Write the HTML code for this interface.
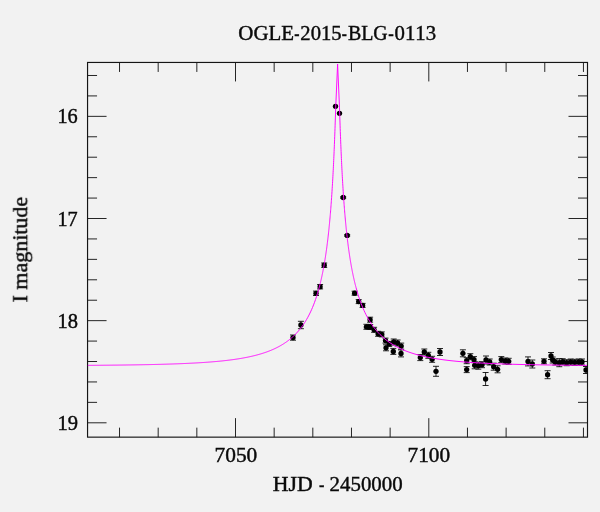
<!DOCTYPE html>
<html><head><meta charset="utf-8"><title>OGLE-2015-BLG-0113</title>
<style>html,body{margin:0;padding:0;background:#f2f2f2;width:600px;height:512px;overflow:hidden;font-family:"Liberation Serif",serif}</style>
</head><body>
<svg width="600" height="512" viewBox="0 0 600 512" style="display:block">
<rect width="600" height="512" fill="#f2f2f2"/>
<defs><clipPath id="c"><rect x="87.55" y="62.45" width="499.95" height="374.7"/></clipPath></defs>
<path d="M119.52,437.15v-9.5M119.52,62.45v9.5M158.18,437.15v-9.5M158.18,62.45v9.5M196.84,437.15v-9.5M196.84,62.45v9.5M235.50,437.15v-19M235.50,62.45v19M274.16,437.15v-9.5M274.16,62.45v9.5M312.82,437.15v-9.5M312.82,62.45v9.5M351.48,437.15v-9.5M351.48,62.45v9.5M390.14,437.15v-9.5M390.14,62.45v9.5M428.80,437.15v-19M428.80,62.45v19M467.46,437.15v-9.5M467.46,62.45v9.5M506.12,437.15v-9.5M506.12,62.45v9.5M544.78,437.15v-9.5M544.78,62.45v9.5M583.44,437.15v-9.5M583.44,62.45v9.5M87.55,75.49h9.5M587.5,75.49h-9.5M87.55,95.92h9.5M587.5,95.92h-9.5M87.55,116.35h19M587.5,116.35h-19M87.55,136.78h9.5M587.5,136.78h-9.5M87.55,157.21h9.5M587.5,157.21h-9.5M87.55,177.64h9.5M587.5,177.64h-9.5M87.55,198.07h9.5M587.5,198.07h-9.5M87.55,218.50h19M587.5,218.50h-19M87.55,238.93h9.5M587.5,238.93h-9.5M87.55,259.36h9.5M587.5,259.36h-9.5M87.55,279.79h9.5M587.5,279.79h-9.5M87.55,300.22h9.5M587.5,300.22h-9.5M87.55,320.65h19M587.5,320.65h-19M87.55,341.08h9.5M587.5,341.08h-9.5M87.55,361.51h9.5M587.5,361.51h-9.5M87.55,381.94h9.5M587.5,381.94h-9.5M87.55,402.37h9.5M587.5,402.37h-9.5M87.55,422.80h19M587.5,422.80h-19" stroke="#262626" stroke-width="1.0" fill="none"/>
<rect x="87.55" y="62.45" width="499.95" height="374.7" fill="none" stroke="#151515" stroke-width="1.15"/>
<g clip-path="url(#c)"><path d="M343.2,196.8v1.4M340.2,196.8h6M340.2,198.2h6M347.2,234.7v1.4M344.2,234.7h6M344.2,236.1h6M324.2,263.0v4.4M321.2,263.0h6M321.2,267.4h6M320.1,284.5v4.4M317.1,284.5h6M317.1,288.9h6M316.0,291.1v4.4M313.0,291.1h6M313.0,295.5h6M300.9,321.3v7.4M297.9,321.3h6M297.9,328.7h6M293.0,335.0v5.2M290.0,335.0h6M290.0,340.2h6M354.6,291.2v4.0M351.6,291.2h6M351.6,295.2h6M358.7,299.6v4.0M355.7,299.6h6M355.7,303.6h6M362.6,303.4v4.0M359.6,303.4h6M359.6,307.4h6M370.1,317.2v5.0M367.1,317.2h6M367.1,322.2h6M366.4,324.3v5.0M363.4,324.3h6M363.4,329.3h6M370.2,324.5v5.0M367.2,324.5h6M367.2,329.5h6M374.1,327.3v5.0M371.1,327.3h6M371.1,332.3h6M378.1,331.3v5.0M375.1,331.3h6M375.1,336.3h6M381.8,331.9v5.0M378.8,331.9h6M378.8,336.9h6M385.5,338.1v5.0M382.5,338.1h6M382.5,343.1h6M386.0,344.8v6.0M383.0,344.8h6M383.0,350.8h6M389.2,341.4v5.0M386.2,341.4h6M386.2,346.4h6M393.7,339.0v6.0M390.7,339.0h6M390.7,345.0h6M397.6,340.0v6.0M394.6,340.0h6M394.6,346.0h6M393.3,348.4v6.0M390.3,348.4h6M390.3,354.4h6M401.2,343.1v6.0M398.2,343.1h6M398.2,349.1h6M401.0,349.9v7.0M398.0,349.9h6M398.0,356.9h6M420.3,354.6v6.0M417.3,354.6h6M417.3,360.6h6M424.3,349.0v6.0M421.3,349.0h6M421.3,355.0h6M428.3,352.3v6.0M425.3,352.3h6M425.3,358.3h6M432.1,356.3v6.0M429.1,356.3h6M429.1,362.3h6M440.0,348.5v7.0M437.0,348.5h6M437.0,355.5h6M436.0,366.3v10.0M433.0,366.3h6M433.0,376.3h6M462.9,349.8v7.0M459.9,349.8h6M459.9,356.8h6M466.7,357.7v6.0M463.7,357.7h6M463.7,363.7h6M466.7,366.6v6.0M463.7,366.6h6M463.7,372.6h6M470.3,353.7v6.0M467.3,353.7h6M467.3,359.7h6M474.0,356.6v6.0M471.0,356.6h6M471.0,362.6h6M474.7,361.8v7.0M471.7,361.8h6M471.7,368.8h6M478.3,362.2v7.0M475.3,362.2h6M475.3,369.2h6M482.0,361.7v6.0M479.0,361.7h6M479.0,367.7h6M486.0,356.0v8.0M483.0,356.0h6M483.0,364.0h6M485.6,372.5v13.0M482.6,372.5h6M482.6,385.5h6M489.7,359.0v6.0M486.7,359.0h6M486.7,365.0h6M493.7,363.2v7.0M490.7,363.2h6M490.7,370.2h6M497.6,365.8v7.0M494.6,365.8h6M494.6,372.8h6M501.3,356.6v6.0M498.3,356.6h6M498.3,362.6h6M505.3,358.0v6.0M502.3,358.0h6M502.3,364.0h6M508.7,358.3v6.0M505.7,358.3h6M505.7,364.3h6M528.0,356.9v9.0M525.0,356.9h6M525.0,365.9h6M532.3,360.0v8.0M529.3,360.0h6M529.3,368.0h6M544.0,358.8v5.0M541.0,358.8h6M541.0,363.8h6M547.6,370.7v8.0M544.6,370.7h6M544.6,378.7h6M551.0,352.5v7.0M548.0,352.5h6M548.0,359.5h6M552.7,357.0v6.0M549.7,357.0h6M549.7,363.0h6M555.3,359.0v6.0M552.3,359.0h6M552.3,365.0h6M559.3,358.7v8.0M556.3,358.7h6M556.3,366.7h6M562.7,358.7v6.0M559.7,358.7h6M559.7,364.7h6M566.7,359.7v6.0M563.7,359.7h6M563.7,365.7h6M570.7,359.0v6.0M567.7,359.0h6M567.7,365.0h6M574.7,359.3v6.0M571.7,359.3h6M571.7,365.3h6M578.7,359.0v6.0M575.7,359.0h6M575.7,365.0h6M582.0,359.0v6.0M579.0,359.0h6M579.0,365.0h6M586.0,366.5v7.0M583.0,366.5h6M583.0,373.5h6" stroke="#000" stroke-width="0.85" fill="none"/><circle cx="335.5" cy="106.3" r="2.65" fill="#000"/><circle cx="339.5" cy="113.3" r="2.65" fill="#000"/><circle cx="343.2" cy="197.5" r="2.65" fill="#000"/><circle cx="347.2" cy="235.4" r="2.65" fill="#000"/><circle cx="324.2" cy="265.2" r="2.65" fill="#000"/><circle cx="320.1" cy="286.7" r="2.65" fill="#000"/><circle cx="316.0" cy="293.3" r="2.65" fill="#000"/><circle cx="300.9" cy="325.0" r="2.65" fill="#000"/><circle cx="293.0" cy="337.6" r="2.65" fill="#000"/><circle cx="354.6" cy="293.2" r="2.65" fill="#000"/><circle cx="358.7" cy="301.6" r="2.65" fill="#000"/><circle cx="362.6" cy="305.4" r="2.65" fill="#000"/><circle cx="370.1" cy="319.7" r="2.65" fill="#000"/><circle cx="366.4" cy="326.8" r="2.65" fill="#000"/><circle cx="370.2" cy="327.0" r="2.65" fill="#000"/><circle cx="374.1" cy="329.8" r="2.65" fill="#000"/><circle cx="378.1" cy="333.8" r="2.65" fill="#000"/><circle cx="381.8" cy="334.4" r="2.65" fill="#000"/><circle cx="385.5" cy="340.6" r="2.65" fill="#000"/><circle cx="386.0" cy="347.8" r="2.65" fill="#000"/><circle cx="389.2" cy="343.9" r="2.65" fill="#000"/><circle cx="393.7" cy="342.0" r="2.65" fill="#000"/><circle cx="397.6" cy="343.0" r="2.65" fill="#000"/><circle cx="393.3" cy="351.4" r="2.65" fill="#000"/><circle cx="401.2" cy="346.1" r="2.65" fill="#000"/><circle cx="401.0" cy="353.4" r="2.65" fill="#000"/><circle cx="420.3" cy="357.6" r="2.65" fill="#000"/><circle cx="424.3" cy="352.0" r="2.65" fill="#000"/><circle cx="428.3" cy="355.3" r="2.65" fill="#000"/><circle cx="432.1" cy="359.3" r="2.65" fill="#000"/><circle cx="440.0" cy="352.0" r="2.65" fill="#000"/><circle cx="436.0" cy="371.3" r="2.65" fill="#000"/><circle cx="462.9" cy="353.3" r="2.65" fill="#000"/><circle cx="466.7" cy="360.7" r="2.65" fill="#000"/><circle cx="466.7" cy="369.6" r="2.65" fill="#000"/><circle cx="470.3" cy="356.7" r="2.65" fill="#000"/><circle cx="474.0" cy="359.6" r="2.65" fill="#000"/><circle cx="474.7" cy="365.3" r="2.65" fill="#000"/><circle cx="478.3" cy="365.7" r="2.65" fill="#000"/><circle cx="482.0" cy="364.7" r="2.65" fill="#000"/><circle cx="486.0" cy="360.0" r="2.65" fill="#000"/><circle cx="485.6" cy="379.0" r="2.65" fill="#000"/><circle cx="489.7" cy="362.0" r="2.65" fill="#000"/><circle cx="493.7" cy="366.7" r="2.65" fill="#000"/><circle cx="497.6" cy="369.3" r="2.65" fill="#000"/><circle cx="501.3" cy="359.6" r="2.65" fill="#000"/><circle cx="505.3" cy="361.0" r="2.65" fill="#000"/><circle cx="508.7" cy="361.3" r="2.65" fill="#000"/><circle cx="528.0" cy="361.4" r="2.65" fill="#000"/><circle cx="532.3" cy="364.0" r="2.65" fill="#000"/><circle cx="544.0" cy="361.3" r="2.65" fill="#000"/><circle cx="547.6" cy="374.7" r="2.65" fill="#000"/><circle cx="551.0" cy="356.0" r="2.65" fill="#000"/><circle cx="552.7" cy="360.0" r="2.65" fill="#000"/><circle cx="555.3" cy="362.0" r="2.65" fill="#000"/><circle cx="559.3" cy="362.7" r="2.65" fill="#000"/><circle cx="562.7" cy="361.7" r="2.65" fill="#000"/><circle cx="566.7" cy="362.7" r="2.65" fill="#000"/><circle cx="570.7" cy="362.0" r="2.65" fill="#000"/><circle cx="574.7" cy="362.3" r="2.65" fill="#000"/><circle cx="578.7" cy="362.0" r="2.65" fill="#000"/><circle cx="582.0" cy="362.0" r="2.65" fill="#000"/><circle cx="586.0" cy="370.0" r="2.65" fill="#000"/></g>
<path d="M87.55,365.37 L88.55,365.36 L89.55,365.36 L90.55,365.35 L91.55,365.34 L92.55,365.33 L93.55,365.33 L94.55,365.32 L95.55,365.31 L96.55,365.30 L97.55,365.29 L98.55,365.29 L99.55,365.28 L100.55,365.27 L101.55,365.26 L102.55,365.25 L103.55,365.24 L104.55,365.23 L105.55,365.22 L106.55,365.21 L107.55,365.20 L108.55,365.19 L109.55,365.18 L110.55,365.17 L111.55,365.16 L112.55,365.15 L113.55,365.14 L114.55,365.13 L115.55,365.12 L116.55,365.11 L117.55,365.10 L118.55,365.08 L119.55,365.07 L120.55,365.06 L121.55,365.05 L122.55,365.04 L123.55,365.02 L124.55,365.01 L125.55,365.00 L126.55,364.98 L127.55,364.97 L128.55,364.95 L129.55,364.94 L130.55,364.93 L131.55,364.91 L132.55,364.90 L133.55,364.88 L134.55,364.86 L135.55,364.85 L136.55,364.83 L137.55,364.82 L138.55,364.80 L139.55,364.78 L140.55,364.76 L141.55,364.75 L142.55,364.73 L143.55,364.71 L144.55,364.69 L145.55,364.67 L146.55,364.65 L147.55,364.63 L148.55,364.61 L149.55,364.59 L150.55,364.57 L151.55,364.55 L152.55,364.52 L153.55,364.50 L154.55,364.48 L155.55,364.45 L156.55,364.43 L157.55,364.41 L158.55,364.38 L159.55,364.36 L160.55,364.33 L161.55,364.30 L162.55,364.28 L163.55,364.25 L164.55,364.22 L165.55,364.19 L166.55,364.16 L167.55,364.13 L168.55,364.10 L169.55,364.07 L170.55,364.04 L171.55,364.01 L172.55,363.97 L173.55,363.94 L174.55,363.90 L175.55,363.87 L176.55,363.83 L177.55,363.80 L178.55,363.76 L179.55,363.72 L180.55,363.68 L181.55,363.64 L182.55,363.60 L183.55,363.56 L184.55,363.51 L185.55,363.47 L186.55,363.42 L187.55,363.38 L188.55,363.33 L189.55,363.28 L190.55,363.23 L191.55,363.18 L192.55,363.13 L193.55,363.08 L194.55,363.03 L195.55,362.97 L196.55,362.92 L197.55,362.86 L198.55,362.80 L199.55,362.74 L200.55,362.68 L201.55,362.62 L202.55,362.55 L203.55,362.49 L204.55,362.42 L205.55,362.35 L206.55,362.28 L207.55,362.21 L208.55,362.13 L209.55,362.06 L210.55,361.98 L211.55,361.90 L212.55,361.82 L213.55,361.73 L214.55,361.65 L215.55,361.56 L216.55,361.47 L217.55,361.38 L218.55,361.29 L219.55,361.19 L220.55,361.09 L221.55,360.99 L222.55,360.88 L223.55,360.78 L224.55,360.67 L225.55,360.56 L226.55,360.44 L227.55,360.32 L228.55,360.20 L229.55,360.08 L230.55,359.95 L231.55,359.82 L232.55,359.69 L233.55,359.55 L234.55,359.41 L235.55,359.26 L236.55,359.11 L237.55,358.96 L238.55,358.80 L239.55,358.64 L240.55,358.47 L241.55,358.30 L242.55,358.13 L243.55,357.95 L244.55,357.76 L245.55,357.57 L246.55,357.38 L247.55,357.18 L248.55,356.97 L249.55,356.76 L250.55,356.54 L251.55,356.31 L252.55,356.08 L253.55,355.84 L254.55,355.60 L255.55,355.34 L256.55,355.08 L257.55,354.82 L258.55,354.54 L259.55,354.26 L260.55,353.96 L261.55,353.66 L262.55,353.35 L263.55,353.03 L264.55,352.70 L265.55,352.35 L266.55,352.00 L267.55,351.64 L268.55,351.26 L269.55,350.87 L270.55,350.47 L271.55,350.06 L272.55,349.63 L273.55,349.19 L274.55,348.73 L275.55,348.26 L276.55,347.77 L277.55,347.26 L278.55,346.74 L279.55,346.20 L280.55,345.63 L281.55,345.05 L282.55,344.45 L283.55,343.82 L284.55,343.17 L285.55,342.50 L286.55,341.80 L287.55,341.07 L288.55,340.32 L289.55,339.54 L290.55,338.72 L291.55,337.87 L292.55,336.99 L293.55,336.07 L294.55,335.11 L295.55,334.11 L296.55,333.06 L297.55,331.97 L298.55,330.83 L299.55,329.64 L300.55,328.39 L301.55,327.09 L302.55,325.72 L303.55,324.28 L304.55,322.77 L305.55,321.19 L306.55,319.52 L307.55,317.76 L308.55,315.91 L309.55,313.95 L310.55,311.88 L311.55,309.69 L312.55,307.37 L313.55,304.90 L314.55,302.27 L315.55,299.47 L316.55,296.47 L317.55,293.27 L318.55,289.82 L319.55,286.12 L320.00,284.35 L320.10,283.95 L320.20,283.55 L320.30,283.14 L320.40,282.73 L320.50,282.32 L320.60,281.91 L320.70,281.49 L320.80,281.06 L320.90,280.64 L321.00,280.21 L321.10,279.77 L321.20,279.34 L321.30,278.90 L321.40,278.45 L321.50,278.00 L321.60,277.55 L321.70,277.10 L321.80,276.64 L321.90,276.17 L322.00,275.71 L322.10,275.24 L322.20,274.76 L322.30,274.28 L322.40,273.80 L322.50,273.31 L322.60,272.82 L322.70,272.32 L322.80,271.82 L322.90,271.31 L323.00,270.80 L323.10,270.29 L323.20,269.77 L323.30,269.25 L323.40,268.72 L323.50,268.18 L323.60,267.65 L323.70,267.10 L323.80,266.55 L323.90,266.00 L324.00,265.44 L324.10,264.88 L324.20,264.31 L324.30,263.73 L324.40,263.15 L324.50,262.56 L324.60,261.97 L324.70,261.37 L324.80,260.77 L324.90,260.16 L325.00,259.54 L325.10,258.92 L325.20,258.29 L325.30,257.66 L325.40,257.02 L325.50,256.37 L325.60,255.71 L325.70,255.05 L325.80,254.38 L325.90,253.71 L326.00,253.02 L326.10,252.33 L326.20,251.64 L326.30,250.93 L326.40,250.22 L326.50,249.50 L326.60,248.77 L326.70,248.03 L326.80,247.28 L326.90,246.53 L327.00,245.77 L327.10,245.00 L327.20,244.22 L327.30,243.43 L327.40,242.63 L327.50,241.82 L327.60,241.00 L327.70,240.18 L327.80,239.34 L327.90,238.49 L328.00,237.63 L328.10,236.77 L328.20,235.89 L328.30,235.00 L328.40,234.10 L328.50,233.18 L328.60,232.26 L328.70,231.32 L328.80,230.37 L328.90,229.41 L329.00,228.44 L329.10,227.45 L329.20,226.45 L329.30,225.44 L329.40,224.41 L329.50,223.37 L329.60,222.31 L329.70,221.24 L329.80,220.15 L329.90,219.05 L330.00,217.93 L330.10,216.80 L330.20,215.64 L330.30,214.48 L330.40,213.29 L330.50,212.09 L330.60,210.86 L330.70,209.62 L330.80,208.36 L330.90,207.08 L331.00,205.78 L331.10,204.46 L331.20,203.12 L331.30,201.75 L331.40,200.37 L331.50,198.96 L331.60,197.52 L331.70,196.06 L331.80,194.58 L331.90,193.07 L332.00,191.53 L332.10,189.97 L332.20,188.38 L332.30,186.76 L332.40,185.11 L332.50,183.43 L332.60,181.72 L332.70,179.98 L332.80,178.20 L332.90,176.39 L333.00,174.54 L333.10,172.66 L333.20,170.74 L333.30,168.79 L333.40,166.79 L333.50,164.75 L333.60,162.68 L333.70,160.55 L333.80,158.39 L333.90,156.18 L334.00,153.93 L334.10,151.62 L334.20,149.27 L334.30,146.87 L334.40,144.42 L334.50,141.92 L334.60,139.37 L334.70,136.76 L334.80,134.10 L334.90,131.39 L335.00,128.63 L335.10,125.81 L335.20,122.94 L335.30,120.02 L335.40,117.05 L335.50,114.04 L335.60,110.98 L335.70,107.89 L335.70,107.89 L337.60,64.00 L339.50,107.89 L339.60,110.98 L339.70,114.04 L339.80,117.05 L339.90,120.02 L340.00,122.94 L340.10,125.81 L340.20,128.63 L340.30,131.39 L340.40,134.10 L340.50,136.76 L340.60,139.37 L340.70,141.92 L340.80,144.42 L340.90,146.87 L341.00,149.27 L341.10,151.62 L341.20,153.93 L341.30,156.18 L341.40,158.39 L341.50,160.55 L341.60,162.68 L341.70,164.75 L341.80,166.79 L341.90,168.79 L342.00,170.74 L342.10,172.66 L342.20,174.54 L342.30,176.39 L342.40,178.20 L342.50,179.98 L342.60,181.72 L342.70,183.43 L342.80,185.11 L342.90,186.76 L343.00,188.38 L343.10,189.97 L343.20,191.53 L343.30,193.07 L343.40,194.58 L343.50,196.06 L343.60,197.52 L343.70,198.96 L343.80,200.37 L343.90,201.75 L344.00,203.12 L344.10,204.46 L344.20,205.78 L344.30,207.08 L344.40,208.36 L344.50,209.62 L344.60,210.86 L344.70,212.09 L344.80,213.29 L344.90,214.48 L345.00,215.64 L345.10,216.80 L345.20,217.93 L345.30,219.05 L345.40,220.15 L345.50,221.24 L345.60,222.31 L345.70,223.37 L345.80,224.41 L345.90,225.44 L346.00,226.45 L346.10,227.45 L346.20,228.44 L346.30,229.41 L346.40,230.37 L346.50,231.32 L346.60,232.26 L346.70,233.18 L346.80,234.10 L346.90,235.00 L347.00,235.89 L347.10,236.77 L347.20,237.63 L347.30,238.49 L347.40,239.34 L347.50,240.18 L347.60,241.00 L347.70,241.82 L347.80,242.63 L347.90,243.43 L348.00,244.22 L348.10,245.00 L348.20,245.77 L348.30,246.53 L348.40,247.28 L348.50,248.03 L348.60,248.77 L348.70,249.50 L348.80,250.22 L348.90,250.93 L349.00,251.64 L349.10,252.33 L349.20,253.02 L349.30,253.71 L349.40,254.38 L349.50,255.05 L349.60,255.71 L349.70,256.37 L349.80,257.02 L349.90,257.66 L350.00,258.29 L350.10,258.92 L350.20,259.54 L350.30,260.16 L350.40,260.77 L350.50,261.37 L350.60,261.97 L350.70,262.56 L350.80,263.15 L350.90,263.73 L351.00,264.31 L351.10,264.88 L351.20,265.44 L351.30,266.00 L351.40,266.55 L351.50,267.10 L351.60,267.65 L351.70,268.18 L351.80,268.72 L351.90,269.25 L352.00,269.77 L352.10,270.29 L352.20,270.80 L352.30,271.31 L352.40,271.82 L352.50,272.32 L352.60,272.82 L352.70,273.31 L352.80,273.80 L352.90,274.28 L353.00,274.76 L353.10,275.24 L353.20,275.71 L353.30,276.17 L353.40,276.64 L353.50,277.10 L353.60,277.55 L353.70,278.00 L353.80,278.45 L353.90,278.90 L354.00,279.34 L354.10,279.77 L354.20,280.21 L354.30,280.64 L354.40,281.06 L354.50,281.49 L354.60,281.91 L354.70,282.32 L354.80,282.73 L354.90,283.14 L355.00,283.55 L355.10,283.95 L355.20,284.35 L355.30,284.75 L355.40,285.14 L355.50,285.54 L355.60,285.92 L355.70,286.31 L355.80,286.69 L355.90,287.07 L356.00,287.45 L357.00,291.06 L358.00,294.41 L359.00,297.54 L360.00,300.47 L361.00,303.21 L362.00,305.78 L363.00,308.20 L364.00,310.47 L365.00,312.62 L366.00,314.65 L367.00,316.57 L368.00,318.39 L369.00,320.11 L370.00,321.75 L371.00,323.31 L372.00,324.79 L373.00,326.20 L374.00,327.55 L375.00,328.84 L376.00,330.06 L377.00,331.24 L378.00,332.36 L379.00,333.43 L380.00,334.46 L381.00,335.45 L382.00,336.39 L383.00,337.30 L384.00,338.17 L385.00,339.01 L386.00,339.81 L387.00,340.59 L388.00,341.33 L389.00,342.05 L390.00,342.74 L391.00,343.40 L392.00,344.04 L393.00,344.66 L394.00,345.26 L395.00,345.83 L396.00,346.39 L397.00,346.92 L398.00,347.44 L399.00,347.94 L400.00,348.43 L401.00,348.89 L402.00,349.34 L403.00,349.78 L404.00,350.20 L405.00,350.61 L406.00,351.01 L407.00,351.39 L408.00,351.77 L409.00,352.13 L410.00,352.47 L411.00,352.81 L412.00,353.14 L413.00,353.46 L414.00,353.77 L415.00,354.07 L416.00,354.36 L417.00,354.64 L418.00,354.91 L419.00,355.18 L420.00,355.43 L421.00,355.68 L422.00,355.93 L423.00,356.16 L424.00,356.39 L425.00,356.62 L426.00,356.83 L427.00,357.04 L428.00,357.25 L429.00,357.45 L430.00,357.64 L431.00,357.83 L432.00,358.01 L433.00,358.19 L434.00,358.36 L435.00,358.53 L436.00,358.70 L437.00,358.86 L438.00,359.01 L439.00,359.16 L440.00,359.31 L441.00,359.46 L442.00,359.60 L443.00,359.73 L444.00,359.87 L445.00,360.00 L446.00,360.12 L447.00,360.24 L448.00,360.36 L449.00,360.48 L450.00,360.60 L451.00,360.71 L452.00,360.82 L453.00,360.92 L454.00,361.02 L455.00,361.12 L456.00,361.22 L457.00,361.32 L458.00,361.41 L459.00,361.50 L460.00,361.59 L461.00,361.68 L462.00,361.76 L463.00,361.85 L464.00,361.93 L465.00,362.01 L466.00,362.08 L467.00,362.16 L468.00,362.23 L469.00,362.30 L470.00,362.37 L471.00,362.44 L472.00,362.51 L473.00,362.57 L474.00,362.64 L475.00,362.70 L476.00,362.76 L477.00,362.82 L478.00,362.88 L479.00,362.94 L480.00,362.99 L481.00,363.05 L482.00,363.10 L483.00,363.15 L484.00,363.20 L485.00,363.25 L486.00,363.30 L487.00,363.35 L488.00,363.39 L489.00,363.44 L490.00,363.48 L491.00,363.53 L492.00,363.57 L493.00,363.61 L494.00,363.65 L495.00,363.69 L496.00,363.73 L497.00,363.77 L498.00,363.81 L499.00,363.84 L500.00,363.88 L501.00,363.92 L502.00,363.95 L503.00,363.98 L504.00,364.02 L505.00,364.05 L506.00,364.08 L507.00,364.11 L508.00,364.14 L509.00,364.17 L510.00,364.20 L511.00,364.23 L512.00,364.26 L513.00,364.29 L514.00,364.31 L515.00,364.34 L516.00,364.36 L517.00,364.39 L518.00,364.41 L519.00,364.44 L520.00,364.46 L521.00,364.49 L522.00,364.51 L523.00,364.53 L524.00,364.55 L525.00,364.58 L526.00,364.60 L527.00,364.62 L528.00,364.64 L529.00,364.66 L530.00,364.68 L531.00,364.70 L532.00,364.72 L533.00,364.73 L534.00,364.75 L535.00,364.77 L536.00,364.79 L537.00,364.80 L538.00,364.82 L539.00,364.84 L540.00,364.85 L541.00,364.87 L542.00,364.89 L543.00,364.90 L544.00,364.92 L545.00,364.93 L546.00,364.95 L547.00,364.96 L548.00,364.97 L549.00,364.99 L550.00,365.00 L551.00,365.01 L552.00,365.03 L553.00,365.04 L554.00,365.05 L555.00,365.06 L556.00,365.08 L557.00,365.09 L558.00,365.10 L559.00,365.11 L560.00,365.12 L561.00,365.13 L562.00,365.15 L563.00,365.16 L564.00,365.17 L565.00,365.18 L566.00,365.19 L567.00,365.20 L568.00,365.21 L569.00,365.22 L570.00,365.23 L571.00,365.24 L572.00,365.24 L573.00,365.25 L574.00,365.26 L575.00,365.27 L576.00,365.28 L577.00,365.29 L578.00,365.30 L579.00,365.30 L580.00,365.31 L581.00,365.32 L582.00,365.33 L583.00,365.34 L584.00,365.34 L585.00,365.35 L586.00,365.36 L587.00,365.36" stroke="#ff00ff" stroke-width="0.95" fill="none" stroke-linejoin="round" clip-path="url(#c)"/>
<g opacity="0.999" font-family="Liberation Serif, serif" fill="#0a0a0a" stroke="#0a0a0a" stroke-width="0.42" style="font-kerning:none">
<text x="238.39" y="40.4" font-size="20.3" textLength="55.70" lengthAdjust="spacingAndGlyphs">OGLE</text>
<text x="294.26" y="40.4" font-size="20.3" textLength="5.26" lengthAdjust="spacingAndGlyphs">-</text>
<text x="300.34" y="40.4" font-size="20.3" textLength="41.21" lengthAdjust="spacingAndGlyphs">2015</text>
<text x="341.68" y="40.4" font-size="20.3" textLength="5.13" lengthAdjust="spacingAndGlyphs">-</text>
<text x="347.88" y="40.4" font-size="20.3" textLength="39.80" lengthAdjust="spacingAndGlyphs">BLG</text>
<text x="388.14" y="40.4" font-size="20.3" textLength="5.51" lengthAdjust="spacingAndGlyphs">-</text>
<text x="394.56" y="40.4" font-size="20.3" textLength="41.50" lengthAdjust="spacingAndGlyphs">0113</text>
<text x="272.72" y="490.9" font-size="20.0" textLength="39.90" lengthAdjust="spacingAndGlyphs">HJD</text>
<text x="318.95" y="490.9" font-size="20.0" textLength="5.38" lengthAdjust="spacingAndGlyphs">-</text>
<text x="329.63" y="490.9" font-size="20.0" textLength="73.01" lengthAdjust="spacingAndGlyphs">2450000</text>
<text x="214.54" y="462.1" font-size="20.0" textLength="42.72" lengthAdjust="spacingAndGlyphs">7050</text>
<text x="407.55" y="462.1" font-size="20.0" textLength="42.62" lengthAdjust="spacingAndGlyphs">7100</text>
<text x="57.47" y="123.4" font-size="20.0" textLength="20.29" lengthAdjust="spacingAndGlyphs">16</text>
<text x="57.47" y="225.55" font-size="20.0" textLength="20.26" lengthAdjust="spacingAndGlyphs">17</text>
<text x="57.45" y="327.7" font-size="20.0" textLength="20.48" lengthAdjust="spacingAndGlyphs">18</text>
<text x="57.44" y="429.85" font-size="20.0" textLength="20.55" lengthAdjust="spacingAndGlyphs">19</text>
<g transform="translate(27.2,301.9) rotate(-90)"><text x="-0.54" y="0" font-size="20.8" textLength="105.66" lengthAdjust="spacingAndGlyphs">I magnitude</text></g>
</g>
</svg>
</body></html>
